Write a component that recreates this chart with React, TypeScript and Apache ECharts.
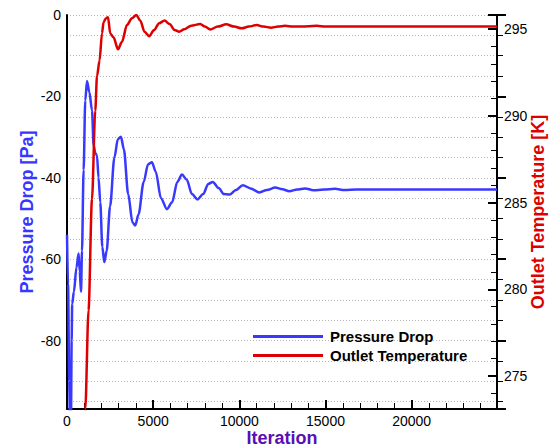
import React, { useEffect, useRef } from "react";
import * as echarts from "echarts";

const iterPressure = [0, 60, 130, 190, 230, 270, 300, 400, 550, 673, 740, 812, 870, 963, 1060, 1160, 1300, 1450, 1545, 1650, 1740, 1830, 1930, 2050, 2165, 2300, 2500, 2750, 2950, 3130, 3300, 3550, 3800, 3960, 4150, 4450, 4700, 4930, 5150, 5450, 5800, 6100, 6400, 6670, 6950, 7250, 7570, 7900, 8200, 8460, 8800, 9100, 9430, 9800, 10200, 10650, 11170, 11600, 12080, 12500, 12900, 13350, 13810, 14300, 14900, 15550, 16100, 16800, 24950];
const pressureDrop = [-54, -66, -90, -105, -100, -80, -71, -68, -62, -58.6, -63, -68, -58, -38.1, -21, -16.2, -19, -23.4, -32, -34, -34.5, -40, -46, -57, -60.7, -58, -47, -35, -30.5, -29.9, -33, -44, -51, -51.7, -49, -41, -36.7, -36.2, -38.5, -45, -47.7, -46, -41, -39.2, -40.5, -44, -45.3, -44, -41.5, -41, -42.5, -44, -44.1, -43, -41.8, -42.6, -43.6, -43, -42.4, -42.8, -43.3, -42.9, -42.6, -43.05, -42.9, -42.7, -43.0, -42.9, -42.9];

const iterTemperature = [950, 1060, 1250, 1450, 1640, 1740, 1890, 2030, 2120, 2250, 2380, 2510, 2700, 2960, 3190, 3480, 3770, 4020, 4250, 4500, 4770, 5050, 5350, 5660, 5950, 6250, 6510, 6800, 7200, 7730, 8000, 8310, 8750, 9240, 9700, 10140, 10550, 11010, 11400, 11840, 12250, 12650, 13100, 13600, 14490, 15000, 24950];
const outletTemperature = [270, 273.1, 278.8, 285.2, 290.3, 292.3, 293.2, 294.76, 295.4, 295.62, 295.69, 294.76, 294.53, 293.84, 294.28, 295.24, 295.63, 295.82, 295.5, 294.85, 294.6, 294.95, 295.35, 295.5, 295.3, 294.95, 294.86, 295.0, 295.2, 295.3, 295.15, 294.99, 295.15, 295.28, 295.15, 295.05, 295.15, 295.24, 295.15, 295.09, 295.15, 295.2, 295.15, 295.15, 295.2, 295.15, 295.15];

const xMajorStep = 5000;
const xMinorStep = 1000;
const leftMajorStep = 20;
const leftMinorStep = 5;
const rightMajorStep = 5;
const rightMinorStep = 1;

const FONT = "'Liberation Sans', Arial, sans-serif";
const GRID_W = 430;
const GRID_H = 394;

function tickAxis(extra: any, step: number, splitNumber: number, major: boolean, split?: any) {
  return {
    type: "value",
    ...extra,
    minInterval: step,
    maxInterval: step,
    splitNumber,
    axisLine: { show: false },
    axisTick: { show: true, length: major ? 9 : 6, lineStyle: { color: "#000", width: major ? 2 : 1 } },
    axisLabel: { show: false },
    splitLine: split || { show: false },
  };
}

export default function App() {
  const ref = useRef<HTMLDivElement>(null);
  useEffect(() => {
    if (!ref.current) return;
    const chart = echarts.init(ref.current, null, { renderer: "svg" });
    const blueData = iterPressure.map((x, i) => [x, pressureDrop[i]]);
    const redData = iterTemperature.map((x, i) => [x, outletTemperature[i]]);
    const xMin = 0, xMax = 24950;
    const pMin = -96.8, pMax = 0;
    const tMin = 273.1, tMax = 295.82;
    const axisLine = () => ({ show: true, onZero: false, lineStyle: { color: "#000", width: 2 } });
    const labelStyle = { color: "#000", fontSize: 14, fontFamily: FONT };
    const xRange = { min: xMin, max: xMax };
    const pRange = { min: pMin, max: pMax };
    const tRange = { min: tMin, max: tMax };
    chart.setOption({
      animation: false,
      backgroundColor: "#fff",
      grid: { left: 67, right: 60, top: 15, bottom: 39, containLabel: false, outerBoundsMode: "none" },
      legend: {
        orient: "vertical",
        left: 248,
        top: 324,
        itemWidth: 70,
        itemHeight: 3,
        itemGap: 4,
        icon: "rect",
        data: ["Pressure Drop", "Outlet Temperature"],
        textStyle: { color: "#000", fontSize: 15, fontWeight: "bold", fontFamily: FONT, padding: [0, 0, 0, 2], lineHeight: 15 },
      },
      xAxis: [
        {
          type: "value", position: "bottom", ...xRange,
          minInterval: xMajorStep, maxInterval: xMajorStep, splitNumber: 5,
          axisLine: axisLine(), axisTick: { show: false },
          axisLabel: { ...labelStyle, margin: 5, showMaxLabel: false, formatter: (v: number) => String(v) },
          splitLine: { show: false },
          name: "Iteration", nameLocation: "middle", nameGap: 20, nameMoveOverlap: false,
          nameTextStyle: { color: "#5a0fb4", fontSize: 18, fontWeight: "bold", fontFamily: FONT },
        },
        tickAxis({ position: "top", offset: -GRID_H, ...xRange }, xMajorStep, 5, true),
        tickAxis({ position: "top", offset: -GRID_H, ...xRange }, xMinorStep, 25, false),
      ],
      yAxis: [
        {
          type: "value", position: "left", ...pRange,
          minInterval: leftMajorStep, maxInterval: leftMajorStep, splitNumber: 5,
          axisLine: axisLine(), axisTick: { show: false },
          axisLabel: { ...labelStyle, margin: 6, showMinLabel: false },
          splitLine: { show: false },
          name: "Pressure Drop [Pa]", nameLocation: "middle", nameGap: 31, nameMoveOverlap: false,
          nameTextStyle: { color: "#3636ff", fontSize: 18, fontWeight: "bold", fontFamily: FONT },
        },
        tickAxis({ position: "right", offset: -GRID_W, ...pRange }, leftMajorStep, 5, true),
        tickAxis({ position: "right", offset: -GRID_W, ...pRange }, leftMinorStep, 20, false,
          { show: true, lineStyle: { color: "#b4b4b4", width: 1, type: [1, 2] } }),
        {
          type: "value", position: "right", ...tRange,
          minInterval: rightMajorStep, maxInterval: rightMajorStep, splitNumber: 5,
          axisLine: axisLine(), axisTick: { show: false },
          axisLabel: { ...labelStyle, margin: 7, showMinLabel: false, showMaxLabel: false },
          splitLine: { show: false },
          name: "Outlet Temperature [K]", nameLocation: "middle", nameGap: 32, nameMoveOverlap: false,
          nameTextStyle: { color: "#dd0000", fontSize: 18, fontWeight: "bold", fontFamily: FONT },
        },
        tickAxis({ position: "left", offset: -GRID_W, ...tRange }, rightMajorStep, 5, true),
        tickAxis({ position: "left", offset: -GRID_W, ...tRange }, rightMinorStep, 23, false),
      ],
      series: [
        {
          name: "Pressure Drop", type: "line", xAxisIndex: 0, yAxisIndex: 0,
          data: blueData, symbol: "none", smooth: 0.3, smoothMonotone: "x",
          lineStyle: { color: "#3838ff", width: 2.5 }, itemStyle: { color: "#3838ff" },
          clip: true,
        },
        {
          name: "Outlet Temperature", type: "line", xAxisIndex: 0, yAxisIndex: 3,
          data: redData, symbol: "none", smooth: 0.3, smoothMonotone: "x",
          lineStyle: { color: "#dd0000", width: 2.5 }, itemStyle: { color: "#dd0000" },
          clip: true,
        },
      ],
    });
    return () => chart.dispose();
  }, []);
  return <div ref={ref} style={{ position: "fixed", left: 0, top: 0, width: 557, height: 448 }} />;
}
